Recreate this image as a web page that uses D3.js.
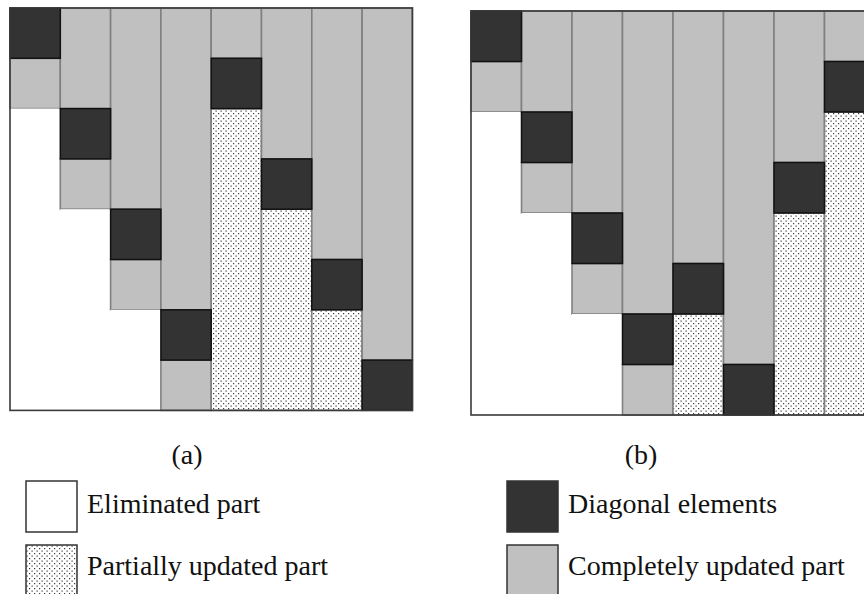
<!DOCTYPE html>
<html lang="en">
	<head>
		<meta charset="utf-8">
		<title>D3: block elimination states</title>
		<script type="text/javascript" src="https://d3js.org/d3.v7.min.js"></script>
		<style type="text/css">
			body{
				margin: 0;
				background: #ffffff;
			}
			text{
				font-family: "Liberation Serif", "Times New Roman", serif;
				font-size: 28px;
				fill: #111111;
			}
		</style>
	</head>
	<body>
		<script type="text/javascript">

			//Width and height
			var w = 864;
			var h = 594;

			//Cell states, one string per block column, top row first
			//D = diagonal, C = completely updated, P = partially updated, E = eliminated
			var columnsA = ["DCEEEEEE", "CCDCEEEE", "CCCCDCEE", "CCCCCCDC",
			                "CDPPPPPP", "CCCDPPPP", "CCCCCDPP", "CCCCCCCD"];
			var columnsB = ["DCEEEEEE", "CCDCEEEE", "CCCCDCEE", "CCCCCCDC",
			                "CCCCCDPP", "CCCCCCCD", "CCCDPPPP", "CDPPPPPP"];

			var panelLabels = ["(a)", "(b)"];
			var legendKeys = ["E", "P", "D", "C"];
			var legendNames = ["Eliminated part", "Partially updated part",
			                   "Diagonal elements", "Completely updated part"];

			var fills = { D: "#333333", C: "#c0c0c0", P: "url(#dots)", E: "#ffffff" };
			var strokes = { D: "#111111", C: "#808080", P: "#808080", E: "none" };

			//Create SVG element
			var svg = d3.select("body")
						.append("svg")
						.attr("width", w)
						.attr("height", h);

			//Dotted fill for the partially updated part
			var pattern = svg.append("defs")
							 .append("pattern")
							 .attr("id", "dots")
							 .attr("patternUnits", "userSpaceOnUse")
							 .attr("width", 5)
							 .attr("height", 5);
			pattern.append("rect").attr("width", 5).attr("height", 5).attr("fill", "#ffffff");
			pattern.append("rect").attr("x", 0.5).attr("y", 0.5).attr("width", 1.2).attr("height", 1.2).attr("fill", "#3a3a3a");
			pattern.append("rect").attr("x", 3).attr("y", 3).attr("width", 1.2).attr("height", 1.2).attr("fill", "#3a3a3a");

			//Turn a column string into runs of equal state
			function segments(columns) {
				var out = [];
				columns.forEach(function(col, c) {
					var start = 0;
					for (var r = 1; r <= col.length; r++) {
						if (r == col.length || col[r] != col[start] || col[start] == "D") {
							out.push({ col: c, r0: start, r1: r, state: col[start] });
							start = r;
						}
					}
				});
				return out;
			}

			function drawPanel(columns, x0, y0, size, label, labelX) {
				var xScale = d3.scaleBand()
							   .domain(d3.range(columns.length))
							   .range([x0, x0 + size * columns.length]);

				var yScale = d3.scaleLinear()
							   .domain([0, columns[0].length])
							   .range([y0, y0 + size * columns[0].length]);

				var g = svg.append("g");
				var segs = segments(columns);
				//diagonal blocks go on top
				segs.sort(function(a, b) { return (a.state == "D") - (b.state == "D"); });

				g.selectAll("rect")
				 .data(segs)
				 .enter()
				 .append("rect")
				 .attr("x", function(d) { return xScale(d.col); })
				 .attr("y", function(d) { return yScale(d.r0); })
				 .attr("width", xScale.bandwidth())
				 .attr("height", function(d) { return yScale(d.r1) - yScale(d.r0); })
				 .attr("fill", function(d) { return fills[d.state]; })
				 .attr("stroke", function(d) { return strokes[d.state]; })
				 .attr("stroke-width", function(d) { return d.state == "D" ? 1.5 : 1.6; });

				//frame
				g.append("rect")
				 .attr("x", xScale.range()[0])
				 .attr("y", yScale.range()[0])
				 .attr("width", xScale.range()[1] - xScale.range()[0])
				 .attr("height", yScale.range()[1] - yScale.range()[0])
				 .attr("fill", "none")
				 .attr("stroke", "#3a3a3a")
				 .attr("stroke-width", 1.6);

				svg.append("text")
				   .attr("x", labelX)
				   .attr("y", 464)
				   .attr("text-anchor", "middle")
				   .text(label);
			}

			drawPanel(columnsA, 10, 8, 50.3, panelLabels[0], 187);
			drawPanel(columnsB, 471, 11, 50.5, panelLabels[1], 641);

			//Legend
			var legend = svg.selectAll("g.key")
							.data(legendKeys)
							.enter()
							.append("g")
							.attr("class", "key")
							.attr("transform", function(d, i) {
								return "translate(" + (i < 2 ? 26 : 507) + "," + (481 + (i % 2) * 64) + ")";
							});

			legend.append("rect")
				  .attr("width", 51)
				  .attr("height", 51)
				  .attr("fill", function(d) { return fills[d]; })
				  .attr("stroke", "#333333")
				  .attr("stroke-width", 1.5);

			legend.append("text")
				  .attr("x", 61)
				  .attr("y", function(d, i) { return i % 2 ? 30 : 32; })
				  .text(function(d, i) { return legendNames[i]; });

		</script>
	</body>
</html>
